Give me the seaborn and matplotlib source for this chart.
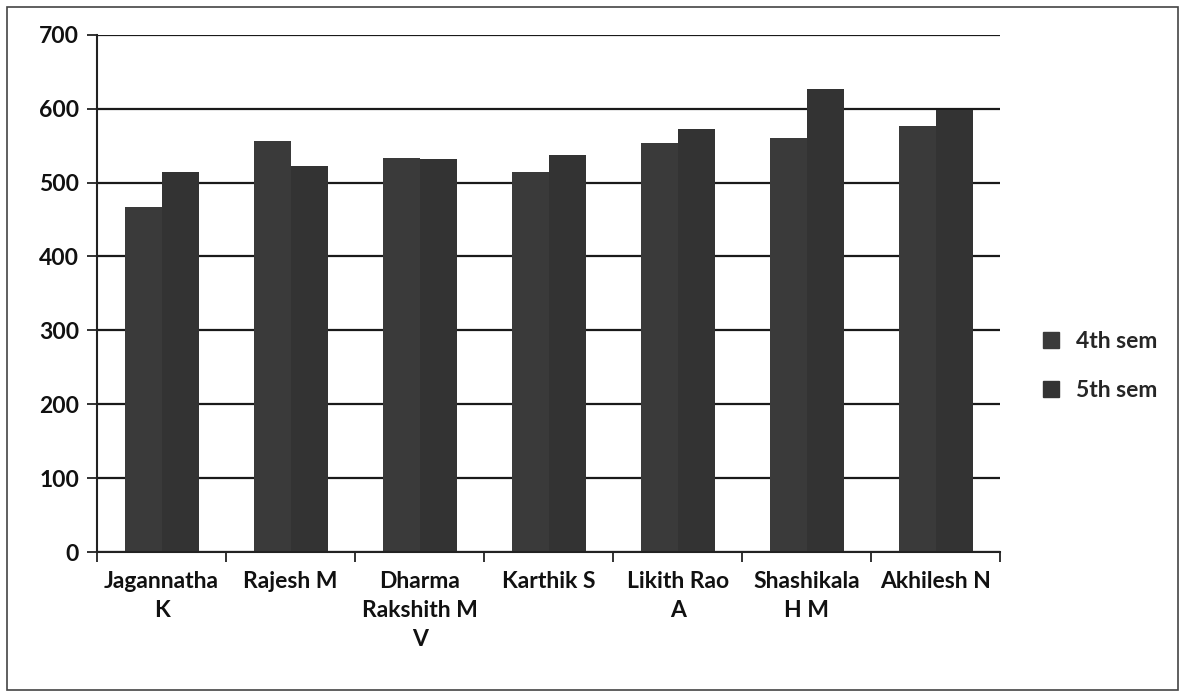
import matplotlib
matplotlib.use("Agg")
import matplotlib.pyplot as plt
import seaborn as sns
import pandas as pd
from matplotlib.patches import Rectangle
from matplotlib.lines import Line2D

students = ["Jagannatha\nK", "Rajesh M", "Dharma\nRakshith M\nV", "Karthik S",
            "Likith Rao\nA", "Shashikala\nH M", "Akhilesh N"]
sem4 = [467, 556, 533, 514, 554, 560, 576]
sem5 = [514, 523, 532, 537, 573, 627, 598]
series = ["4th sem", "5th sem"]
yticks = [0, 100, 200, 300, 400, 500, 600, 700]

df = pd.DataFrame({
    "student": students * 2,
    "marks": sem4 + sem5,
    "sem": [series[0]] * len(students) + [series[1]] * len(students),
})

sns.set_theme(style="white")
plt.rcParams["font.family"] = ["Lato", "DejaVu Sans"]
plt.rcParams["font.weight"] = "bold"

fig = plt.figure(figsize=(11.85, 6.97), dpi=100)
ax = fig.add_axes([0.082, 0.208, 0.762, 0.742])

colors = ["#3a3a3a", "#333333"]
sns.barplot(data=df, x="student", y="marks", hue="sem", palette=colors,
            width=0.575, gap=0, ax=ax, legend=False, saturation=1, linewidth=0)

ax.set_ylim(0, 700)
ax.set_xlim(-0.5, len(students) - 0.5)
ax.set_yticks(yticks)
ax.set_yticklabels([str(v) for v in yticks], fontsize=16.5, fontweight="bold", color="#111111")
ax.yaxis.grid(True, color="#1a1a1a", linewidth=1.6)
ax.set_axisbelow(True)
ax.set_xlabel("")
ax.set_ylabel("")
ax.set_xticks(range(len(students)))
ax.set_xticklabels(students, fontsize=16.5, fontweight="bold", color="#111111", linespacing=1.45)
ax.tick_params(axis="x", which="major", length=0, pad=14)
ax.set_xticks([i - 0.5 for i in range(len(students) + 1)], minor=True)
ax.tick_params(axis="x", which="minor", length=7, width=1.3, color="#222222", bottom=True)
ax.tick_params(axis="y", which="major", length=7, width=1.3, color="#222222", left=True, pad=6)

for s in ["top", "right"]:
    ax.spines[s].set_visible(False)
for s in ["left", "bottom"]:
    ax.spines[s].set_color("#222222")
    ax.spines[s].set_linewidth(1.5)

handles = [Line2D([0], [0], marker="s", linestyle="", markersize=11,
                  markerfacecolor=c, markeredgecolor=c) for c in colors]
fig.legend(handles, series, loc="center left", bbox_to_anchor=(0.85, 0.475),
           frameon=False, handletextpad=0.1, labelspacing=1.2,
           prop={"weight": "bold", "size": 16.5})

fig.patches.append(Rectangle((0.006, 0.01), 0.988, 0.98, transform=fig.transFigure,
                             fill=False, edgecolor="#444444", linewidth=1.2))

fig.savefig("out.png", dpi=100)
